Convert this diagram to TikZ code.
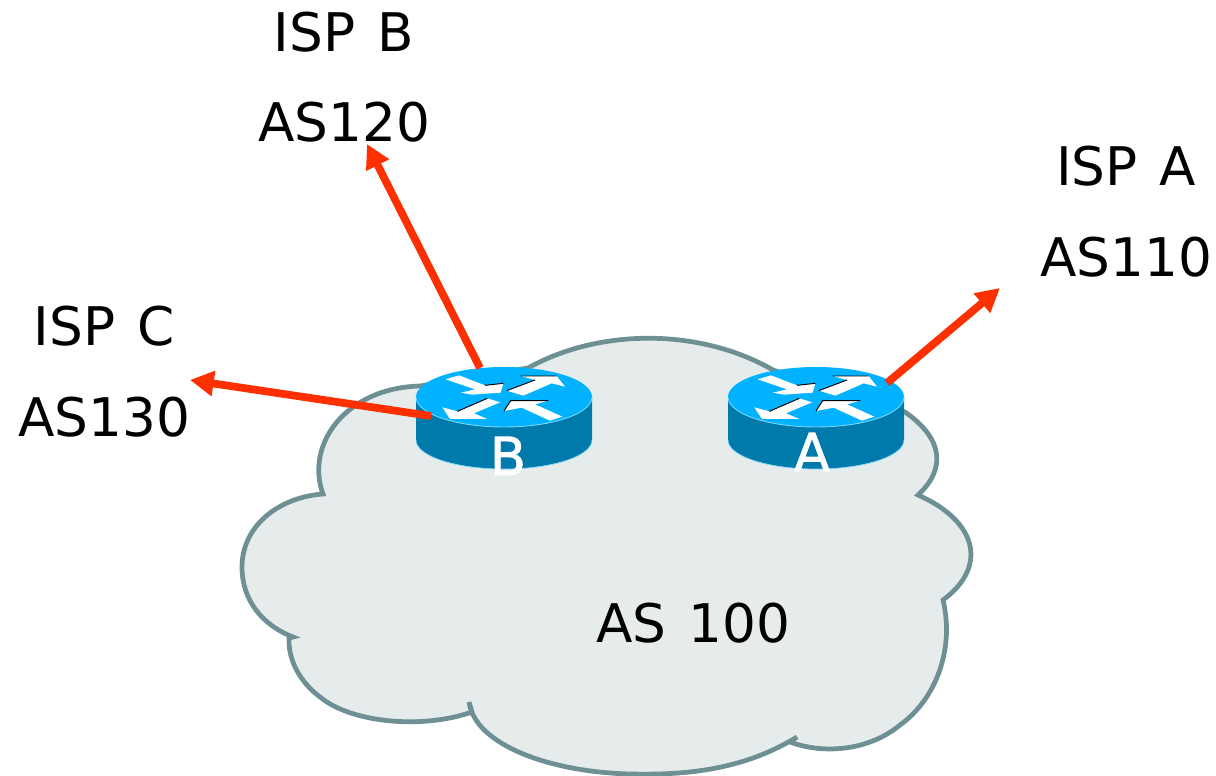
\documentclass[tikz,border=0pt]{standalone}
\usepackage{fontspec}
\setmainfont[WordSpace=1.3]{DejaVu Sans}
\newfontfamily\routerfont[FakeBold=1.5]{DejaVu Sans}
\usetikzlibrary{arrows.meta}
\definecolor{cloudfill}{RGB}{230,236,236}
\definecolor{cloudline}{RGB}{110,144,148}
\definecolor{linkred}{RGB}{255,48,0}
\definecolor{rtop}{RGB}{0,178,255}
\definecolor{rside}{RGB}{0,121,171}
\definecolor{rrim}{RGB}{120,215,250}
\tikzset{
  x=0.02cm,y=-0.02cm,
  lbl/.style={font=\fontsize{30.3}{36}\selectfont,text=black,inner sep=0pt},
  rlbl/.style={font=\routerfont\fontsize{30}{36}\selectfont,text=white,inner sep=0pt},
  cloudshape/.style={draw=cloudline,fill=cloudfill,line width=2.7pt,line join=miter},
  link/.style={draw=linkred,line width=4.4pt,-{Triangle[length=13.5pt,width=13.8pt]}},
  arrw/.style={fill=white,draw=none},
  arrs/.style={draw=black,line width=0.55pt},
  pics/router/.style={code={
    \fill[rside] (-88,0) -- (-88,43) arc[x radius=88,y radius=29,start angle=180,end angle=0] -- (88,0) -- cycle;
    \draw[rrim,line width=0.4pt] (-88,43) arc[x radius=88,y radius=29,start angle=180,end angle=0];
    \fill[rtop] (0,0) ellipse[x radius=88,y radius=30];
    \draw[rrim,line width=0.5pt] (-88,0) arc[x radius=88,y radius=30,start angle=180,end angle=0];
    \begin{scope}[x=0.00667cm,y=-0.00667cm,shift={(-312,-141)}]
      \fill[arrw] (137,88)--(177,76)--(255,106)--(310,100)--(302,128)--(215,134)--(183,128)--(225,118)--cycle;
      \draw[arrs] (255,106)--(310,100);
      \fill[arrw] (320,122)--(405,90)--(362,78)--(470,78)--(495,110)--(455,100)--(370,137)--cycle;
      \draw[arrs] (320,122)--(405,90) (362,78)--(470,78);
      \fill[arrw] (262,145)--(300,157)--(222,190)--(262,207)--(150,207)--(127,172)--(172,184)--cycle;
      \draw[arrs] (172,184)--(262,145);
      \fill[arrw] (312,183)--(332,152)--(445,152)--(405,163)--(487,200)--(450,212)--(365,173)--cycle;
      \draw[arrs] (312,183)--(332,152)--(445,152);
    \end{scope}
  }}
}
\begin{document}
\begin{tikzpicture}
\useasboundingbox (0,0) rectangle (1216,776);
% cloud, lobe by lobe
\path[cloudshape]
  (323,494) .. controls (305,445) and (345,388) .. (420,386)
  -- (528,368) .. controls (600,328) and (700,328) .. (773,370)
  -- (905,412) .. controls (945,440) and (945,470) .. (918,495)
  .. controls (975,520) and (990,565) .. (943,600)
  .. controls (955,650) and (935,700) .. (900,725)
  .. controls (870,750) and (825,755) .. (790,742)
  -- (797,737) .. controls (740,772) and (680,775) .. (630,774)
  .. controls (550,772) and (475,745) .. (469,702)
  -- (472,712) .. controls (420,730) and (350,722) .. (320,697)
  .. controls (300,682) and (288,660) .. (289,638)
  -- (293,637) .. controls (262,625) and (242,600) .. (242,567)
  .. controls (242,525) and (280,497) .. (323,494)
  -- cycle;
% routers
\pic at (504,397) {router};
\pic at (816,397) {router};
\coordinate (bTop) at (480,368);
\coordinate (bLeft) at (431,416);
\coordinate (aRight) at (887,383);
\coordinate (toB) at (367,144);
\coordinate (toC) at (190,380);
\coordinate (toA) at (1000,288);
\draw[link] (bTop) -- (toB);
\draw[link] (bLeft) -- (toC);
\draw[link] (aRight) -- (toA);
\node[rlbl] (labelB) at (508,456) {B};
\node[rlbl] (labelA) at (812,452) {A};
\node[lbl] (ispb) at (344,32) {ISP B};
\node[lbl] (as120) at (344,122) {AS120};
\node[lbl] (ispa) at (1126,166) {ISP A};
\node[lbl] (as110) at (1126,257) {AS110};
\node[lbl] (ispc) at (104,326) {ISP C};
\node[lbl] (as130) at (104,417) {AS130};
\node[lbl] (as100) at (693,623) {AS 100};
\end{tikzpicture}
\end{document}
